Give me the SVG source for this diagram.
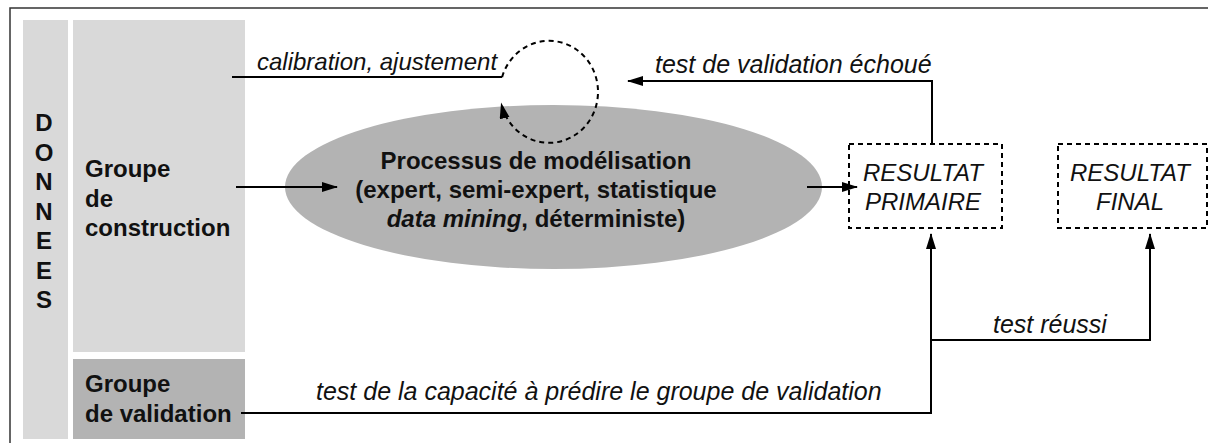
<svg xmlns="http://www.w3.org/2000/svg" width="1208" height="443" viewBox="0 0 1208 443">
<style>
  text { font-family: "Liberation Sans", Arial, sans-serif; fill: #111; }
  .b { font-weight: bold; font-size: 24px; }
  .i { font-style: italic; font-size: 24px; }
  .i25 { font-style: italic; font-size: 25px; }
  .ln { fill: none; stroke: #000; stroke-width: 2; }
  .dash { fill: none; stroke: #000; stroke-width: 2; stroke-dasharray: 5 4; }
</style>
<defs>
  <marker id="ah" markerUnits="userSpaceOnUse" markerWidth="18" markerHeight="12" refX="15" refY="5" orient="auto">
    <path d="M0,0 L16,5 L0,10 Z" fill="#000"/>
  </marker>
</defs>
<rect x="0" y="0" width="1208" height="443" fill="#fff"/>
<rect x="10" y="8" width="1210" height="450" fill="none" stroke="#333" stroke-width="1.5"/>

<g id="donnees">
  <rect x="23" y="20" width="45" height="419" fill="#d9d9d9"/>
  <text class="b" x="44" y="131" text-anchor="middle">D</text>
  <text class="b" x="44" y="161" text-anchor="middle">O</text>
  <text class="b" x="44" y="190" text-anchor="middle">N</text>
  <text class="b" x="44" y="220" text-anchor="middle">N</text>
  <text class="b" x="44" y="249" text-anchor="middle">E</text>
  <text class="b" x="44" y="279" text-anchor="middle">E</text>
  <text class="b" x="44" y="308" text-anchor="middle">S</text>
</g>

<g id="groupe-construction">
  <rect x="73" y="20" width="172" height="332" fill="#d9d9d9"/>
  <text class="b" x="85" y="177">Groupe</text>
  <text class="b" x="85" y="207">de</text>
  <text class="b" x="85" y="236">construction</text>
</g>

<g id="groupe-validation">
  <rect x="73" y="359" width="172" height="80" fill="#b3b3b3"/>
  <text class="b" x="85" y="392">Groupe</text>
  <text class="b" x="85" y="422">de validation</text>
</g>

<g id="processus">
  <ellipse cx="553.5" cy="187" rx="268.5" ry="82" fill="#b3b3b3"/>
  <text class="b" x="536" y="169" text-anchor="middle">Processus de modélisation</text>
  <text class="b" x="536" y="198" text-anchor="middle">(expert, semi-expert, statistique</text>
  <text class="b" x="536" y="227" text-anchor="middle"><tspan font-style="italic">data mining</tspan>, déterministe)</text>
</g>

<g id="resultat-primaire">
  <rect x="849" y="144" width="153" height="84" class="dash"/>
  <text class="i" x="923" y="181" text-anchor="middle">RESULTAT</text>
  <text class="i" x="923" y="210" text-anchor="middle">PRIMAIRE</text>
</g>

<g id="resultat-final">
  <rect x="1058" y="144" width="149" height="84" class="dash"/>
  <text class="i" x="1130" y="181" text-anchor="middle">RESULTAT</text>
  <text class="i" x="1130" y="210" text-anchor="middle">FINAL</text>
</g>

<g id="connectors">
  <path class="ln" d="M232,77 H502"/>
  <path class="dash" d="M502.1,77.1 A49,51 0 1 1 501.3,103.5" marker-end="url(#ah)"/>
  <path class="ln" d="M932,143 V81 H628" marker-end="url(#ah)"/>
  <path class="ln" d="M236,187 H337" marker-end="url(#ah)"/>
  <path class="ln" d="M807,187 H857" marker-end="url(#ah)"/>
  <path class="ln" d="M241,413 H931 V234" marker-end="url(#ah)"/>
  <path class="ln" d="M931,340 H1150 V234" marker-end="url(#ah)"/>
</g>

<g id="labels">
  <text class="i" x="257" y="70">calibration, ajustement</text>
  <text class="i25" x="655" y="73">test de validation échoué</text>
  <text class="i25" x="993" y="333">test réussi</text>
  <text class="i25" x="316" y="400">test de la capacité à prédire le groupe de validation</text>
</g>
</svg>
